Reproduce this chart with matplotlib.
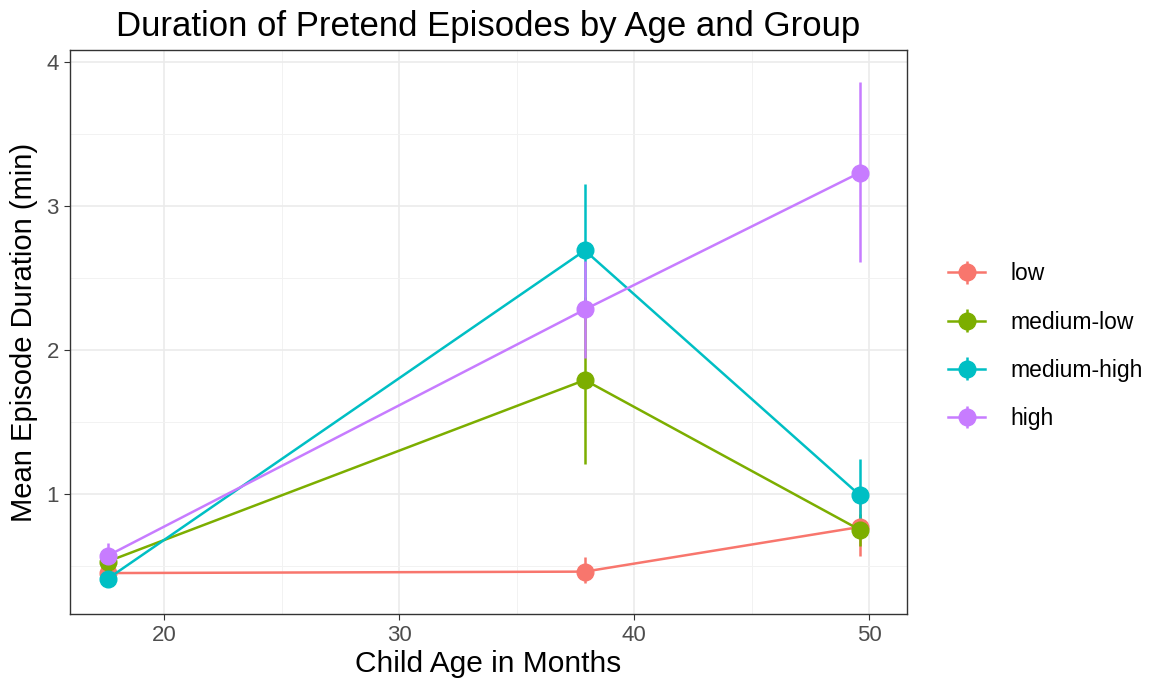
import numpy as np
import matplotlib.pyplot as plt
from matplotlib.ticker import MultipleLocator

plt.rcParams['font.family'] = ['Liberation Sans', 'DejaVu Sans']

# data
ages = [17.6, 37.9, 49.6]
groups = ['low', 'medium-low', 'medium-high', 'high']
colors = ['#F8766D', '#7CAE00', '#00BFC4', '#C77CFF']

mean_low = [0.45, 0.46, 0.77]
mean_medlow = [0.53, 1.79, 0.75]
mean_medhigh = [0.41, 2.69, 0.99]
mean_high = [0.57, 2.28, 3.23]

lo_low = [0.40, 0.38, 0.57]
hi_low = [0.50, 0.56, 0.97]
lo_medlow = [0.46, 1.21, 0.64]
hi_medlow = [0.60, 2.37, 0.86]
lo_medhigh = [0.36, 2.23, 0.74]
hi_medhigh = [0.46, 3.15, 1.24]
lo_high = [0.48, 1.94, 2.61]
hi_high = [0.66, 2.62, 3.86]

means = [mean_low, mean_medlow, mean_medhigh, mean_high]
lows = [lo_low, lo_medlow, lo_medhigh, lo_high]
highs = [hi_low, hi_medlow, hi_medhigh, hi_high]

fig = plt.figure(figsize=(11.55, 6.88), dpi=100)
ax = fig.add_axes([0.0606, 0.1076, 0.7246, 0.8194])

for g, c, m, lo, hi in zip(groups, colors, means, lows, highs):
    m = np.array(m)
    yerr = [m - np.array(lo), np.array(hi) - m]
    ax.errorbar(ages, m, yerr=yerr, color=c, lw=1.8, elinewidth=1.8,
                capsize=0, marker='o', markersize=12, label=g, zorder=3)

ax.set_xlim(16.0, 51.6)
ax.set_ylim(0.166, 4.08)
ax.xaxis.set_major_locator(MultipleLocator(10))
ax.xaxis.set_minor_locator(MultipleLocator(5))
ax.yaxis.set_major_locator(MultipleLocator(1))
ax.yaxis.set_minor_locator(MultipleLocator(0.5))
ax.grid(True, which='major', color='#EBEBEB', lw=1.2)
ax.grid(True, which='minor', color='#F2F2F2', lw=0.7)
ax.set_axisbelow(True)
ax.tick_params(which='minor', length=0)
ax.tick_params(which='major', length=4, color='#333333', labelsize=16,
               labelcolor='#4D4D4D', pad=4)
for s in ax.spines.values():
    s.set_color('#333333')
    s.set_linewidth(1.0)

ax.set_title('Duration of Pretend Episodes by Age and Group', fontsize=25, pad=10)
ax.set_xlabel('Child Age in Months', fontsize=21.5, labelpad=3)
ax.set_ylabel('Mean Episode Duration (min)', fontsize=21, labelpad=6)

ax.legend(loc='center left', bbox_to_anchor=(1.025, 0.475), frameon=False,
          fontsize=16.5, labelspacing=1.1, handlelength=1.6, handletextpad=1.1)

fig.savefig('out.png', dpi=100)
